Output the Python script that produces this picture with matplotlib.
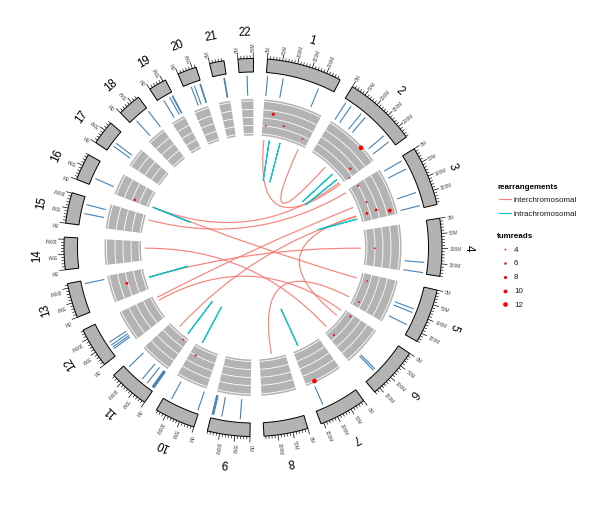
import numpy as np
import matplotlib
matplotlib.use('Agg')
import matplotlib.pyplot as plt
from matplotlib.patches import Polygon, PathPatch
from matplotlib.path import Path

plt.rcParams['font.family'] = ['Liberation Sans', 'DejaVu Sans']

# Data

chrom_names = [str(i) for i in range(1, 23)]
chrom_mb = [249, 243, 198, 191, 181, 171, 159, 146, 141, 135, 135,
            133, 115, 107, 102, 90, 81, 78, 59, 63, 48, 51]

# outer track, one (chrom, Mb) per blue segment
seg_chrom = [1, 1, 1,
             2, 2, 2, 2, 2, 2,
             3, 3, 3, 3,
             4, 4,
             5, 5, 5,
             6, 6,
             7,
             9, 9, 9, 9, 9,
             10, 10,
             11, 11, 11, 11, 11, 11, 11, 11,
             12, 12, 12, 12,
             13,
             15, 15,
             16,
             17, 17,
             18, 18,
             19, 19, 19, 19,
             20, 20, 20, 20,
             21, 21,
             22]
seg_mb = [5, 62, 194,
          10, 33, 78, 98, 192, 220,
          14, 47, 139, 188,
          150, 187,
          85, 99, 147,
          117, 124,
          128,
          36, 103, 133, 136, 139,
          5, 108,
          2, 4, 6, 8, 10, 32, 55, 120,
          24, 31, 40, 52,
          103,
          43, 76,
          27,
          25, 39,
          21, 76,
          20, 44, 54, 56,
          25, 37, 58, 60,
          38, 40,
          28]

# point track
dot_chrom = [1, 1, 1, 1, 2, 2, 2, 3, 3, 3, 3, 3, 4, 5, 5, 6, 6, 7, 10, 11, 13, 16]
dot_mb = [46, 17, 106, 217, 168, 208, 243, 11, 105, 160, 157, 177, 100,
          36, 153, 13, 142, 120, 105, 23, 63, 9]
dot_frac = [0.63, 0.25, 0.34, 0.16, 1.0, 0.34, 0.14, 0.24, 0.25, 0.15, 0.45, 0.84,
            0.24, 0.15, 0.16, 0.16, 0.16, 1.0, 0.25, 0.05, 0.52, 0.41]
dot_reads = [8, 4, 5, 4, 12, 6, 4, 5, 5, 7, 7, 10, 4, 4, 4, 5, 5, 12, 5, 4, 7, 6]

# links
inter_from = [(1, 15), (1, 219), (16, 9), (16, 9), (15, 80), (14, 69),
              (13, 63), (12, 116), (12, 97), (11, 85), (3, 157), (8, 76)]
inter_to = [(2, 241), (2, 110), (2, 230), (5, 36), (3, 11), (6, 142),
            (4, 100), (3, 105), (6, 15), (3, 160), (6, 53), (5, 153)]
intra_from = [(1, 46), (1, 109), (2, 168), (2, 208), (3, 175), (7, 122),
              (10, 105), (11, 22), (13, 61), (16, 9)]

legend_reads = [4, 6, 8, 10, 12]

# --------------------------------------------------------------------------------------------------

# Layout

CX, CY = 253, 248.5
GAP = 4.25
START = 4.4
DEG_PER_MB = (360 - 22 * GAP) / sum(chrom_mb)

chrom_start = {}
a = START
for name, size in zip(chrom_names, chrom_mb):
    chrom_start[int(name)] = a
    a += size * DEG_PER_MB + GAP


def angle(chrom, mb):
    return chrom_start[chrom] + mb * DEG_PER_MB


def xy(r, deg):
    # degrees run clockwise from the top, y axis points down
    t = np.radians(deg)
    return CX + r * np.sin(t), CY - r * np.cos(t)


def sector(chrom, r0, r1, **kw):
    size = chrom_mb[chrom - 1]
    t = np.linspace(angle(chrom, 0), angle(chrom, size), 40)
    xo, yo = xy(r1, t)
    xi, yi = xy(r0, t[::-1])
    pts = np.column_stack([np.r_[xo, xi], np.r_[yo, yi]])
    ax.add_patch(Polygon(pts, closed=True, **kw))


def arc(chrom, r, **kw):
    t = np.linspace(angle(chrom, 0), angle(chrom, chrom_mb[chrom - 1]), 40)
    x, y = xy(r, t)
    ax.plot(x, y, **kw)


def link(p, q, color):
    a0 = angle(*p)
    a1 = angle(*q)
    verts = [xy(108, a0), (CX, CY), xy(108, a1)]
    ax.add_patch(PathPatch(Path(verts, [Path.MOVETO, Path.CURVE3, Path.CURVE3]),
                           fc='none', ec=color, lw=0.85, alpha=0.9, capstyle='butt'))


def dot_area(reads):
    return (0.72 * (1.7 + (np.asarray(reads) - 4) / 8 * 3.0)) ** 2


# --------------------------------------------------------------------------------------------------

fig = plt.figure(figsize=(6, 5.06), dpi=100)
ax = fig.add_axes([0, 0, 1, 1])
ax.set_xlim(0, 600)
ax.set_ylim(506, 0)
ax.axis('off')

# Ideogram, ticks, labels

for c in range(1, 23):
    size = chrom_mb[c - 1]
    sector(c, 175.5, 189, fc='#B3B3B3', ec='black', lw=0.7)

    for mb in range(0, size + 1, 10):
        deg = angle(c, mb)
        major = mb % 50 == 0
        x, y = xy(np.array([189, 195 if major else 192]), deg)
        ax.plot(x, y, color='black', lw=0.5 if major else 0.45, solid_capstyle='butt')
        if major:
            tx, ty = xy(196.5, deg)
            ax.text(tx, ty, '%dM' % mb, fontsize=3.5, color='#4D4D4D', rotation=90 - deg,
                    rotation_mode='anchor', ha='left', va='center')

    mid = angle(c, size / 2)
    tx, ty = xy(216, mid)
    ax.text(tx, ty, chrom_names[c - 1], fontsize=8.3, color='black', rotation=-mid,
            rotation_mode='anchor', ha='center', va='center')

# Blue segments

for c, mb in zip(seg_chrom, seg_mb):
    x, y = xy(np.array([152, 172]), angle(c, mb))
    ax.plot(x, y, color='#4682B4', lw=0.8, solid_capstyle='butt')

# Point track panels

for c in range(1, 23):
    sector(c, 112, 148.5, fc='#B3B3B3', ec='none')
    for r in [114, 122, 130, 138, 146.5]:
        arc(c, r, color='white', lw=0.6, solid_capstyle='butt')

dot_x, dot_y = xy(114 + 33 * np.array(dot_frac),
                  np.array([angle(c, m) for c, m in zip(dot_chrom, dot_mb)]))
ax.scatter(dot_x, dot_y, s=dot_area(dot_reads), color='red', linewidths=0, zorder=4)

# Links

for p, q in zip(inter_from, inter_to):
    link(p, q, '#F8766D')
for c, m in intra_from:
    link((c, m), (c, m + 0.02), '#00BFC4')

# --------------------------------------------------------------------------------------------------

# Legend

ax.text(497, 187, 'rearrangements', fontsize=5.8, fontweight='bold', va='center')
ax.plot([499, 511], [200, 200], color='#F8766D', lw=0.85, alpha=0.9)
ax.plot([499, 511], [214, 214], color='#00BFC4', lw=0.85, alpha=0.9)
ax.text(514, 200, 'interchromosomal', fontsize=5.8, color='#1A1A1A', va='center')
ax.text(514, 214, 'intrachromosomal', fontsize=5.8, color='#1A1A1A', va='center')

ax.text(497, 237, 'tumreads', fontsize=5.8, fontweight='bold', va='center')
for i, n in enumerate(legend_reads):
    yy = 250 + i * 13.85
    ax.scatter([505], [yy], s=dot_area(n), color='red', linewidths=0)
    ax.text(514, yy, str(n), fontsize=5.8, color='#1A1A1A', va='center')

fig.savefig('out.png', dpi=100)
